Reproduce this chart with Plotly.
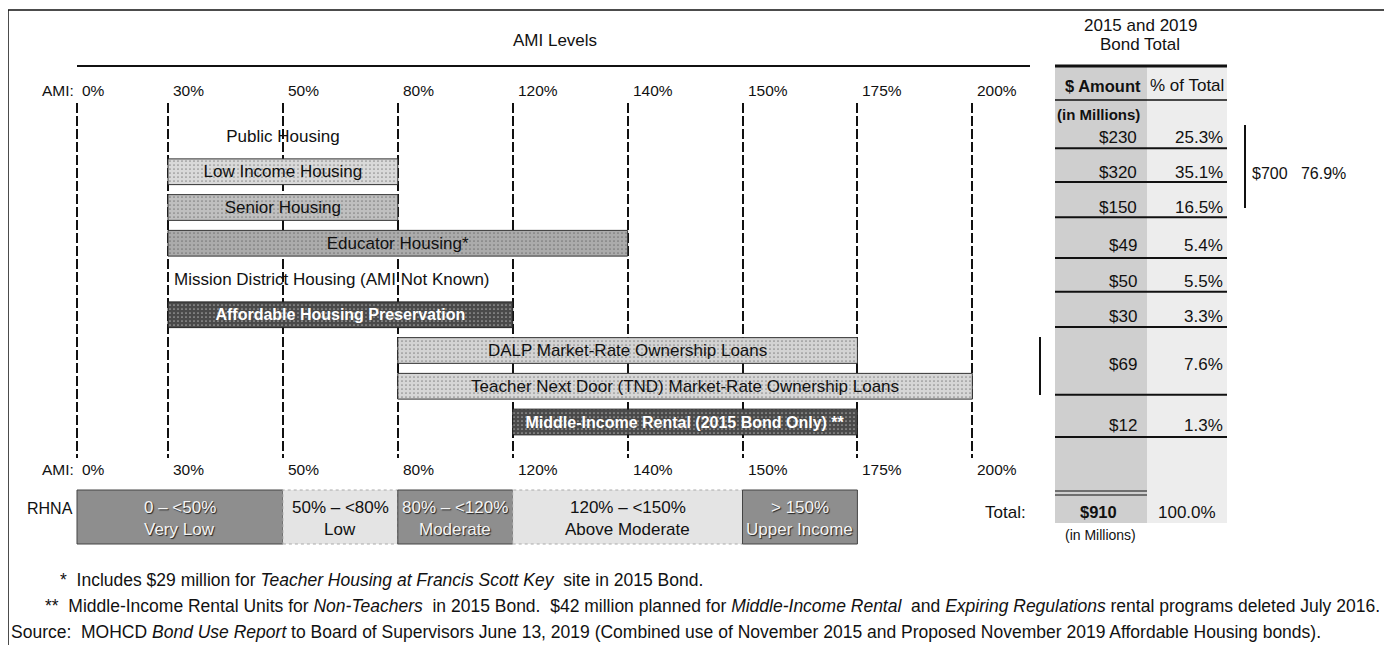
import plotly.graph_objects as go

OX, OY = 8, 8                 # page (body) margin of the html document
W, H = 1384, 648              # figure size so that the page fits 1392x656
FONT = "Liberation Sans, Arial, sans-serif"

# ---------------- data ----------------
AMI_LEVELS = ["0%", "30%", "50%", "80%", "120%", "140%", "150%", "175%", "200%"]

PROGRAMS = [
    "Public Housing",
    "Low Income Housing",
    "Senior Housing",
    "Educator Housing*",
    "Mission District Housing (AMI Not Known)",
    "Affordable Housing Preservation",
    "DALP Market-Rate Ownership Loans",
    "Teacher Next Door (TND) Market-Rate Ownership Loans",
    "Middle-Income Rental (2015 Bond Only) **",
]
AMI_FROM = ["30%", "30%", "30%", "30%", None, "30%", "80%", "80%", "120%"]
AMI_TO = ["80%", "80%", "80%", "140%", None, "120%", "175%", "200%", "175%"]

AMOUNT_MILLIONS = [230, 320, 150, 49, 50, 30, 69, 12]
PCT_OF_TOTAL = [25.3, 35.1, 16.5, 5.4, 5.5, 3.3, 7.6, 1.3]
SUBTOTAL_AMOUNT, SUBTOTAL_PCT = 700, 76.9
TOTAL_AMOUNT, TOTAL_PCT = 910, 100.0

RHNA_RANGES = ["0 – <50%", "50% – <80%", "80% – <120%", "120% – <150%", "> 150%"]
RHNA_NAMES = ["Very Low", "Low", "Moderate", "Above Moderate", "Upper Income"]
RHNA_FROM = ["0%", "50%", "80%", "120%", "150%"]
RHNA_TO = ["50%", "80%", "120%", "150%", "175%"]

# ---------------- layout helpers (screen pixel -> paper) ----------------
SLOT = dict(zip(AMI_LEVELS, [0.208, 1, 2, 3, 4, 5, 6, 7, 8]))
COL_PX0, COL_STEP = 168.0, 114.9          # screen pixel of slot 1 and pixels per slot
X_RANGE = [1 + (OX - COL_PX0) / COL_STEP, 1 + (OX + W - COL_PX0) / COL_STEP]
ROW_PX0, ROW_STEP = 136.0, 35.75          # screen pixel of row 0 and pixels per row
PLOT_TOP, PLOT_BOT = 103, 458


def px(x):
    return (x - OX) / W


def py(y):
    return 1 - (y - OY) / H


def row_px(r):
    return ROW_PX0 + ROW_STEP * r


Y_RANGE = [(PLOT_BOT - ROW_PX0) / ROW_STEP, (PLOT_TOP - ROW_PX0) / ROW_STEP]

# fill, outline, text colour, bold, stipple
BAR_STYLE = {
    "Public Housing": ("rgba(0,0,0,0)", "rgba(0,0,0,0)", "#111", False, ""),
    "Low Income Housing": ("#d9d9d9", "#333", "#111", False, "."),
    "Senior Housing": ("#bfbfbf", "#333", "#111", False, "."),
    "Educator Housing*": ("#ababab", "#333", "#111", False, "."),
    "Affordable Housing Preservation": ("#4a4a4a", "#222", "white", True, "."),
    "DALP Market-Rate Ownership Loans": ("#d3d3d3", "#333", "#111", False, "."),
    "Teacher Next Door (TND) Market-Rate Ownership Loans": ("#d6d6d6", "#333", "#111", False, "."),
    "Middle-Income Rental (2015 Bond Only) **": ("#4a4a4a", "#222", "white", True, "."),
}

bar_rows = [i for i in range(len(PROGRAMS)) if AMI_FROM[i] is not None]
bar_base = [SLOT[AMI_FROM[i]] for i in bar_rows]
bar_len = [SLOT[AMI_TO[i]] - SLOT[AMI_FROM[i]] for i in bar_rows]
bar_names = [PROGRAMS[i] for i in bar_rows]
bar_text = [("<b>%s</b>" % n) if BAR_STYLE[n][3] else n for n in bar_names]
bar_size = [16 if BAR_STYLE[n][3] else 17 for n in bar_names]

fig = go.Figure()
fig.add_trace(go.Bar(
    orientation="h",
    y=bar_rows,
    x=bar_len,
    base=bar_base,
    width=0.72,
    text=bar_text,
    textposition="inside",
    insidetextanchor="middle",
    textangle=0,
    constraintext="none",
    textfont=dict(family=FONT, size=bar_size, color=[BAR_STYLE[n][2] for n in bar_names]),
    marker=dict(
        color=[BAR_STYLE[n][0] for n in bar_names],
        line=dict(color=[BAR_STYLE[n][1] for n in bar_names], width=1),
        pattern=dict(shape=[BAR_STYLE[n][4] for n in bar_names], fillmode="overlay",
                     size=4, solidity=0.15, fgcolor="rgba(120,120,120,0.35)"),
    ),
    hoverinfo="skip",
    showlegend=False,
    cliponaxis=False,
))

shapes = []
ann = []


def line(x0, y0, x1, y1, w=2, color="#111", dash=None):
    d = dict(type="line", xref="paper", yref="paper", x0=px(x0), y0=py(y0),
             x1=px(x1), y1=py(y1), line=dict(color=color, width=w))
    if dash:
        d["line"]["dash"] = dash
    shapes.append(d)


def rect(x0, y0, x1, y1, fill, lc="rgba(0,0,0,0)", lw=0, dash=None, layer="below"):
    d = dict(type="rect", xref="paper", yref="paper", x0=px(x0), y0=py(y1),
             x1=px(x1), y1=py(y0), fillcolor=fill, layer=layer,
             line=dict(color=lc, width=lw))
    if dash:
        d["line"]["dash"] = dash
    shapes.append(d)


def text(x, y, t, size=17, anchor="center", color="#111", bold=False, ref_x="paper", shift=0):
    ann.append(dict(
        x=x if ref_x == "x" else px(x), y=py(y), xref=ref_x, yref="paper",
        text=("<b>%s</b>" % t) if bold else t, showarrow=False,
        xanchor=anchor, yanchor="middle", xshift=shift,
        font=dict(family=FONT, size=size, color=color)))


# outer frame
line(8, 10, 1388, 10, w=1.5)
line(8, 10, 8, 645, w=1.5)
line(1388, 10, 1388, 622, w=1.5)

# AMI header
text(555, 40, "AMI Levels", size=17)
line(77, 66, 1030, 66, w=2)

# AMI labels top & bottom
for yy in (90, 469):
    text(SLOT["0%"], yy, "AMI:", size=15.5, anchor="right", ref_x="x", shift=-1)
    for lvl in AMI_LEVELS:
        text(SLOT[lvl], yy, lvl, size=15.5, anchor="left", ref_x="x", shift=3)

# Mission District row (no AMI range)
ann.append(dict(x=SLOT["30%"], y=4, xref="x", yref="y", text=PROGRAMS[4],
                showarrow=False, xanchor="left", yanchor="middle", xshift=4,
                font=dict(family=FONT, size=17, color="#111")))

# RHNA
text(SLOT["0%"], 508, "RHNA", size=16, anchor="right", ref_x="x", shift=-2)
for i, (rng, nm) in enumerate(zip(RHNA_RANGES, RHNA_NAMES)):
    dark = i % 2 == 0
    shapes.append(dict(type="rect", xref="x", yref="paper",
                       x0=SLOT[RHNA_FROM[i]], x1=SLOT[RHNA_TO[i]],
                       y0=py(544), y1=py(490),
                       fillcolor="#8e8e8e" if dark else "#e4e4e4", layer="below",
                       line=dict(color="#444" if dark else "#aaa", width=1,
                                 dash="solid" if dark else "dot")))
    mid = (SLOT[RHNA_FROM[i]] + SLOT[RHNA_TO[i]]) / 2
    col = "#f4f4f4" if dark else "#111"
    shadow = "1px 1px 1px #222" if dark else "none"
    for yy, t in ((507, rng), (529, nm)):
        ann.append(dict(x=mid, y=py(yy), xref="x", yref="paper", text=t,
                        showarrow=False, xanchor="center", yanchor="middle",
                        font=dict(family=FONT, size=17, color=col, shadow=shadow)))

# ---------------- bond table ----------------
TL, TM, TR = 1055, 1147, 1227
text(1140, 25, "2015 and 2019", size=17)
text(1140, 44, "Bond Total", size=17)
rect(TL, 67, TM, 523, "#cfcfcf")
rect(TM, 67, TR, 523, "#ededed")
line(TL, 66, TR, 66, w=3)
line(TL, 100, TR, 100, w=1.5)
text((TL + TM) / 2 + 2, 86, "$ Amount", size=16.5, bold=True)
text((TM + TR) / 2, 86, "% of Total", size=17)
text(TL, 114, "(in Millions)", size=15, anchor="left", bold=True)

TABLE_ROW_POS = [0.03, 1.03, 2.0, 3.05, 4.07, 5.06, 6.4, 8.1]
SEPARATOR_ROWS = [0.34, 1.29, 2.27, 3.41, 4.36, 5.34, 7.24, 8.42]
for r, a, p in zip(TABLE_ROW_POS, AMOUNT_MILLIONS, PCT_OF_TOTAL):
    text(1139, row_px(r), "$%d" % a, anchor="right")
    text(1225, row_px(r), "%.1f%%" % p, anchor="right")
for r in SEPARATOR_ROWS:
    line(TL, row_px(r), TR, row_px(r), w=2)

# brackets
line(1245, 125, 1245, 208, w=2)
text(1250, 173, "$%d&nbsp;&nbsp;&nbsp;%.1f%%" % (SUBTOTAL_AMOUNT, SUBTOTAL_PCT), size=16, anchor="left")
line(1040, 337, 1040, 395, w=2)

# total
line(TL, 491, TM, 491, w=1.2)
line(TL, 495, TM, 495, w=1.2)
text(1028, 512, "Total:", anchor="right")
text(1098, 512, "$%d" % TOTAL_AMOUNT, bold=True, size=16.5)
text(1187, 512, "%.1f%%" % TOTAL_PCT)
text(1100, 535, "(in Millions)", size=14)

# ---------------- footnotes ----------------
text(58, 580, "*&nbsp;&nbsp;Includes $29 million for <i>Teacher Housing at Francis Scott Key</i>&nbsp; site in 2015 Bond.",
     anchor="left", size=17.5)
text(43, 606, "**&nbsp;&nbsp;Middle-Income Rental Units for <i>Non-Teachers</i>&nbsp; in 2015 Bond.&nbsp; $42 million planned for "
     "<i>Middle-Income Rental</i>&nbsp; and <i>Expiring Regulations</i> rental programs deleted July 2016.",
     anchor="left", size=17.5)
text(9, 632, "Source:&nbsp;&nbsp;MOHCD <i>Bond Use Report</i> to Board of Supervisors June 13, 2019 (Combined use of "
     "November 2015 and Proposed November 2019 Affordable Housing bonds).", anchor="left", size=17.5)

fig.update_layout(
    width=W, height=H,
    margin=dict(l=0, r=0, t=0, b=0),
    paper_bgcolor="white", plot_bgcolor="rgba(0,0,0,0)",
    barmode="overlay",
    xaxis=dict(range=X_RANGE, domain=[0, 1], tickvals=[SLOT[l] for l in AMI_LEVELS],
               showticklabels=False, ticks="", showgrid=True, gridcolor="#111",
               gridwidth=2, griddash="10px,3px", zeroline=False, showline=False,
               fixedrange=True),
    yaxis=dict(range=Y_RANGE, domain=[py(PLOT_BOT), py(PLOT_TOP)], showticklabels=False,
               showgrid=False, zeroline=False, ticks="", fixedrange=True),
    shapes=shapes,
    annotations=ann,
    font=dict(family=FONT, size=17, color="#111"),
)

fig.write_html("out.html")
